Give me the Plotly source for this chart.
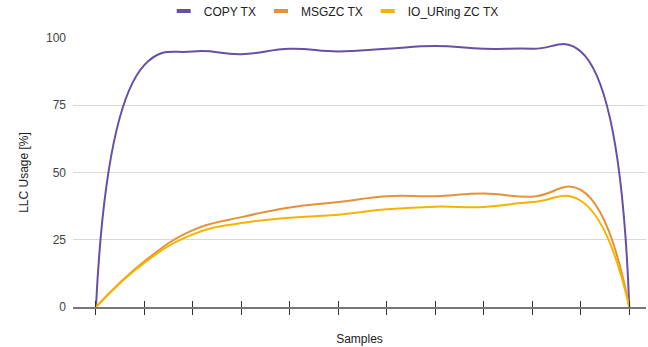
import plotly.graph_objects as go

# LLC usage per sample for each transmit path
samples = list(range(12))
copy_tx = [0, 90, 95, 94, 96, 95, 96, 97, 96, 96, 95, 0]
msgzc_tx = [0, 17, 28.6, 33.4, 37, 39, 41.2, 41.2, 42.2, 41, 43.5, 0]
io_uring_zc_tx = [0, 16.5, 27, 31.2, 33.2, 34.3, 36.3, 37.3, 37.2, 39, 39.5, 0]

series_names = ["COPY TX", "MSGZC TX", "IO_URing ZC TX"]
series_colors = ["#674ea7", "#e69138", "#f6b400"]
y_ticks = [0, 25, 50, 75, 100]

FONT = "Liberation Sans, Arial, sans-serif"

fig = go.Figure()

for name, vals, color in zip(series_names, [copy_tx, msgzc_tx, io_uring_zc_tx], series_colors):
    fig.add_trace(go.Scatter(
        x=samples, y=vals, mode="lines", name=name,
        line=dict(color=color, width=2, shape="spline", smoothing=1.3),
        showlegend=False, hoverinfo="x+y",
    ))

# legend entries drawn as short thick bars
for name, color in zip(series_names, series_colors):
    fig.add_trace(go.Scatter(
        x=[None], y=[None], mode="markers", name=name,
        marker=dict(symbol="line-ew-open", size=10, color=color,
                    line=dict(color=color, width=4)),
    ))

# second x axis carries the upward half of the crossing tick marks
fig.add_trace(go.Scatter(x=[None], y=[None], xaxis="x2", showlegend=False))

x_range = [-0.474, 11.345]

fig.update_layout(
    width=648, height=347,
    margin=dict(l=73, r=2, t=38, b=40, autoexpand=False),
    paper_bgcolor="white", plot_bgcolor="white",
    font=dict(family=FONT, size=12, color="#444"),
    legend=dict(orientation="h", x=0.455, xanchor="center", y=1.154, yanchor="top",
                yref="paper", font=dict(size=12, color="#222"),
                itemwidth=30, tracegroupgap=0, bgcolor="rgba(0,0,0,0)"),
    xaxis=dict(
        range=x_range, tickvals=samples, showticklabels=False,
        ticks="outside", ticklen=6, tickwidth=1, tickcolor="#333",
        showline=True, linecolor="#777", linewidth=2,
        showgrid=False, zeroline=False,
        title=dict(text="Samples", font=dict(size=12, color="#222"), standoff=21),
    ),
    xaxis2=dict(
        range=x_range, tickvals=samples, showticklabels=False,
        ticks="inside", ticklen=6, tickwidth=1, tickcolor="#333",
        overlaying="x", side="bottom", showline=False, showgrid=False,
        zeroline=False, anchor="y",
    ),
    yaxis=dict(
        range=[0, 100], tickvals=y_ticks, ticks="", ticklabelstandoff=6,
        showgrid=True, gridcolor="#d9d9d9", gridwidth=1,
        zeroline=False, showline=False,
        tickfont=dict(size=12, color="#444"),
        title=dict(text="LLC Usage [%]", font=dict(size=12, color="#222"), standoff=14),
    ),
)

fig.write_html("out.html")
